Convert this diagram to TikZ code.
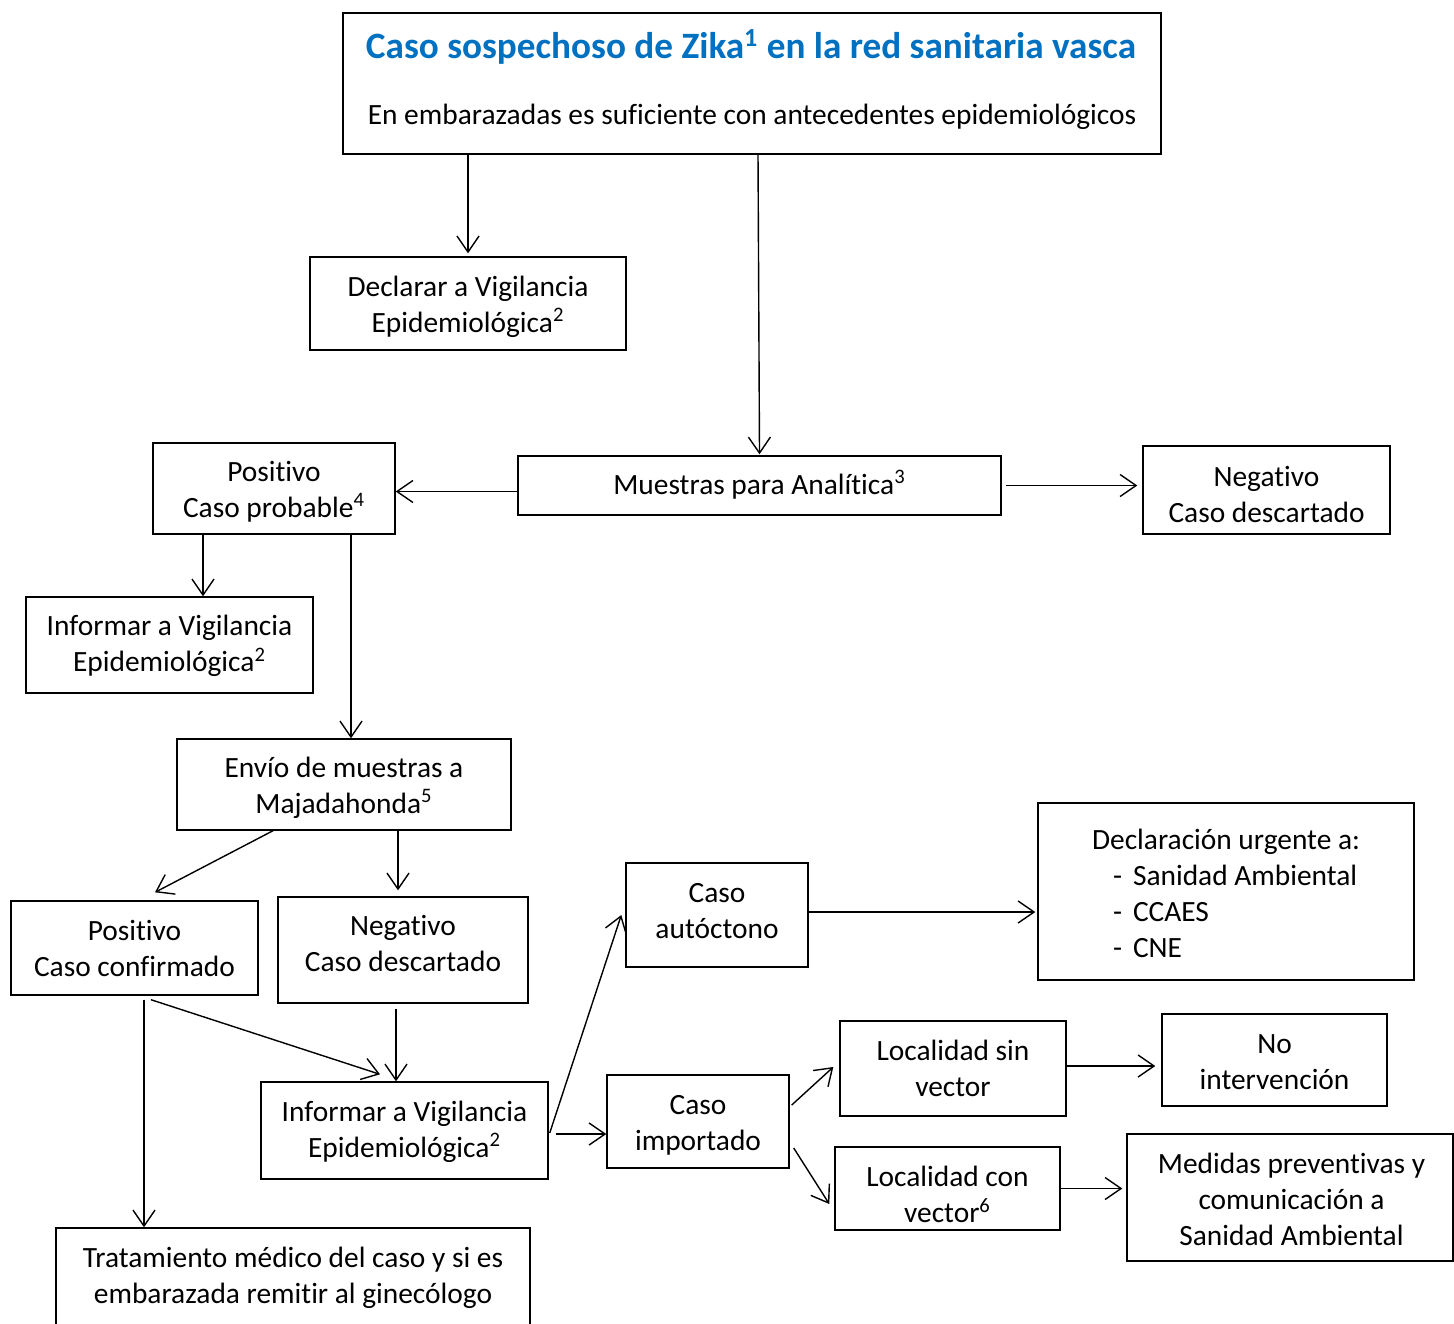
\documentclass[tikz,border=0pt]{standalone}
\usepackage{fontspec}
\setmainfont{Carlito}[Ligatures=NoCommon]
\usetikzlibrary{arrows.meta,calc}
\definecolor{titleblue}{RGB}{0,112,192}
\tikzset{
  box/.style={draw=black, line width=0.7pt, inner sep=0pt},
  txt/.style={inner sep=0pt, align=center, font=\fontsize{14.7}{18}\selectfont},
  arr/.style={draw=black, line width=0.7pt, -{Straight Barb[length=8pt,width=11pt,line width=0.7pt]}},
}
\begin{document}
\begin{tikzpicture}[x=0.5pt,y=-0.5pt]
\clip (0,0) rectangle (1454,1323);
\fill[white] (0,0) rectangle (1454,1323);
% top box
\node[box, minimum width=409pt, minimum height=70.5pt] (top) at (752,83.5) {};
\node[txt, font=\fontsize{18.6}{22}\selectfont\bfseries, text=titleblue] (title) at (751,47) {Caso sospechoso de Zika\textsuperscript{1} en la red sanitaria vasca};
\node[txt] (subtitle) at (752,117) {En embarazadas es suficiente con antecedentes epidemiológicos};
% boxes
\node[box, minimum width=158pt, minimum height=46.5pt] (decl) at (468,303.5) {};
\node[txt] (declt) at (468,306.5) {Declarar a Vigilancia\\Epidemiológica\textsuperscript{2}};
\node[box, minimum width=241.5pt, minimum height=29.5pt] (muest) at (759.5,485.5) {};
\node[txt] (muestt) at (759.5,484.5) {Muestras para Analítica\textsuperscript{3}};
\node[box, minimum width=123.5pt, minimum height=44pt] (neg1) at (1266.5,490) {};
\node[txt] (neg1t) at (1266.5,494) {Negativo\\Caso descartado};
\node[box, minimum width=121pt, minimum height=45.5pt] (pos1) at (274,488.5) {};
\node[txt] (pos1t) at (274,491.5) {Positivo\\Caso probable\textsuperscript{4}};
\node[box, minimum width=143.5pt, minimum height=48pt] (inf1) at (169.5,645) {};
\node[txt] (inf1t) at (169.5,646) {Informar a Vigilancia\\Epidemiológica\textsuperscript{2}};
\node[box, minimum width=167pt, minimum height=45.5pt] (envio) at (344,784.5) {};
\node[txt] (enviot) at (344,787.5) {Envío de muestras a\\Majadahonda\textsuperscript{5}};
\node[box, minimum width=123.5pt, minimum height=47pt] (pos2) at (134.5,948) {};
\node[txt] (pos2t) at (134.5,948) {Positivo\\Caso confirmado};
\node[box, minimum width=125pt, minimum height=53pt] (neg2) at (403,950) {};
\node[txt] (neg2t) at (403,943.5) {Negativo\\Caso descartado};
\node[box, minimum width=143.5pt, minimum height=48.5pt] (inf2) at (404.5,1130.5) {};
\node[txt] (inf2t) at (404.5,1131.5) {Informar a Vigilancia\\Epidemiológica\textsuperscript{2}};
\node[box, minimum width=237pt, minimum height=49pt] (trat) at (293,1277) {};
\node[txt] (tratt) at (293,1278) {Tratamiento médico del caso y si es\\embarazada remitir al ginecólogo};
\node[box, minimum width=91pt, minimum height=52pt] (aut) at (717,915) {};
\node[txt] (autt) at (717,911) {Caso\\autóctono};
\node[box, minimum width=188pt, minimum height=88.5pt] (decu) at (1226,891.5) {};
\node[txt, align=left] (decut) at (1226,893.5) {Declaración urgente a:\\
\makebox[20.5pt][l]{\hspace{10.5pt}-}Sanidad Ambiental\\
\makebox[20.5pt][l]{\hspace{10.5pt}-}CCAES\\
\makebox[20.5pt][l]{\hspace{10.5pt}-}CNE};
\node[box, minimum width=91pt, minimum height=46.5pt] (imp) at (698,1121.5) {};
\node[txt] (impt) at (698,1125.5) {Caso\\importado};
\node[box, minimum width=113pt, minimum height=47.5pt] (lsin) at (953,1068.5) {};
\node[txt] (lsint) at (953,1068.5) {Localidad sin\\vector};
\node[box, minimum width=112.5pt, minimum height=46pt] (noint) at (1274.5,1060) {};
\node[txt] (nointt) at (1274.5,1062) {No\\intervención};
\node[box, minimum width=112.5pt, minimum height=41.5pt] (lcon) at (947.5,1188.5) {};
\node[txt] (lcont) at (947.5,1194.5) {Localidad con\\vector\textsuperscript{6}};
\node[box, minimum width=163pt, minimum height=63.5pt] (med) at (1290,1197.5) {};
\node[txt] (medt) at (1291.5,1199.5) {Medidas preventivas y\\comunicación a\\Sanidad Ambiental};
% arrows
\draw[arr, shorten >=1.5pt] (top.south -| decl.north) -- (decl.north);
\draw[arr] ([xshift=3pt]top.south) -- ([yshift=0.5pt]muest.north);
\draw[arr] ([yshift=-3pt]muest.west) -- ([yshift=-3pt]muest.west -| pos1.east);
\draw[arr, shorten >=2.5pt] ([xshift=2pt]muest.east) -- (muest.east -| neg1.west);
\draw[arr] ([xshift=-35.5pt]pos1.south) -- ([xshift=-35.5pt]pos1.south |- inf1.north);
\draw[arr] ([xshift=38.5pt]pos1.south) -- ([xshift=38.5pt]pos1.south |- envio.north);
\draw[arr] ([xshift=-35.5pt]envio.south) -- ([xshift=10.25pt,yshift=4pt]pos2.north);
\draw[arr, shorten >=3pt] ([xshift=27pt]envio.south) -- ([xshift=27pt]envio.south |- neg2.north);
\draw[arr] ([xshift=-3.5pt,yshift=-2.5pt]neg2.south) -- ([xshift=-3.5pt]neg2.south |- inf2.north);
\draw[arr] ([xshift=8.25pt,yshift=-2pt]pos2.south) -- ([xshift=-12.25pt,yshift=3.5pt]inf2.north);
\draw[arr] ([xshift=4.75pt,yshift=-2pt]pos2.south) -- ([xshift=4.75pt]pos2.south |- trat.north);
\draw[arr] ([xshift=0.5pt,yshift=-1.25pt]inf2.east) -- ([xshift=-2pt]aut.west);
\draw[arr] ([xshift=3.5pt,yshift=-1.75pt]inf2.east) -- ([yshift=-1.75pt]inf2.east -| imp.west);
\draw[arr, shorten >=1pt] ([yshift=1.5pt]aut.east) -- ([yshift=1.5pt]aut.east -| decu.west);
\draw[arr] ([xshift=1pt,yshift=8.25pt]imp.east) -- ([xshift=-3pt,yshift=0.75pt]lsin.west);
\draw[arr] ([xshift=2pt,yshift=-13.25pt]imp.east) -- ([xshift=-2.5pt,yshift=-7.75pt]lcon.west);
\draw[arr, shorten >=3pt] ([yshift=1.25pt]lsin.east) -- ([yshift=1.25pt]lsin.east -| noint.west);
\draw[arr, shorten >=2pt] (lcon.east) -- (lcon.east -| med.west);
\end{tikzpicture}
\end{document}
